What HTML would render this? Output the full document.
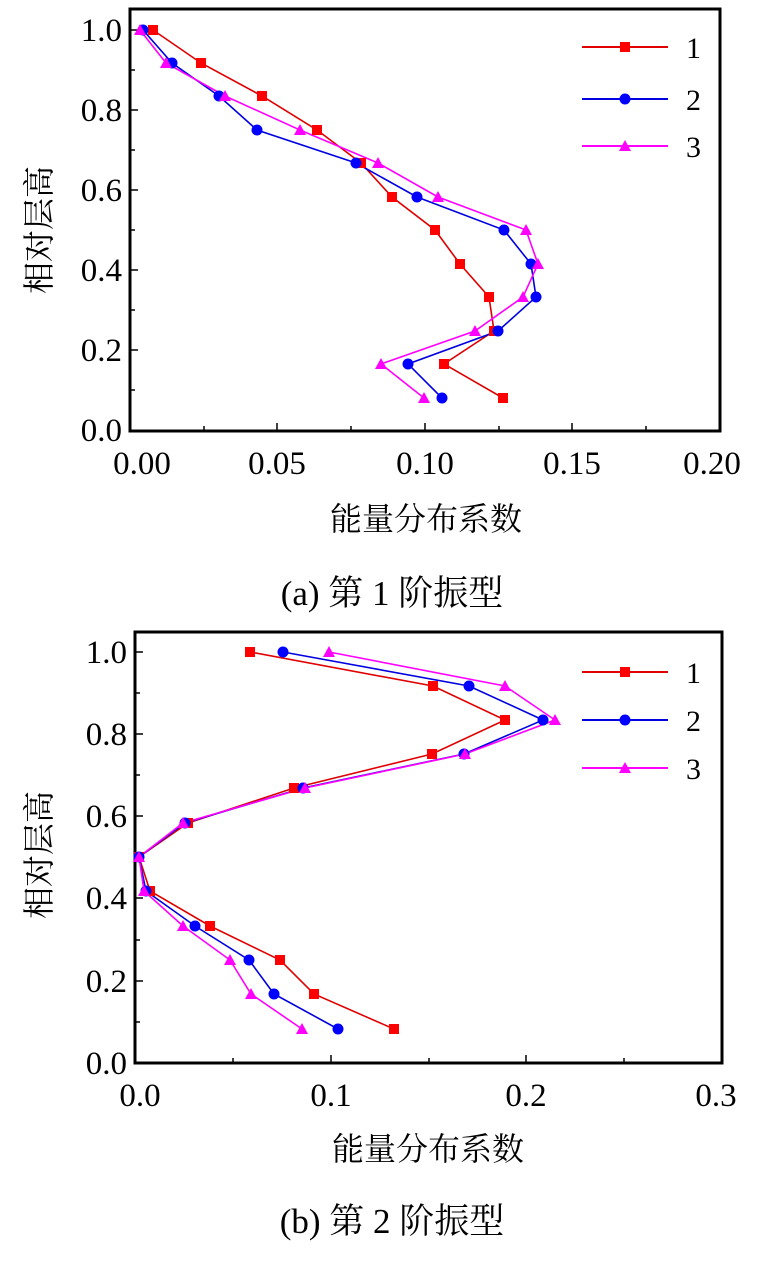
<!DOCTYPE html>
<html><head><meta charset="utf-8"><style>
html,body{margin:0;padding:0;background:#fff;}
svg text{font-family:"Liberation Serif","Noto Serif CJK SC",serif;fill:#000;}
</style></head><body>
<svg width="761" height="1261" viewBox="0 0 761 1261" xmlns="http://www.w3.org/2000/svg">
<rect x="130" y="9" width="590" height="422" fill="none" stroke="#000" stroke-width="3"/>
<g stroke="#000" stroke-width="1.5">
<line x1="130" y1="30" x2="138" y2="30"/><line x1="130" y1="70" x2="135" y2="70"/>
<line x1="130" y1="110" x2="138" y2="110"/><line x1="130" y1="150" x2="135" y2="150"/>
<line x1="130" y1="190" x2="138" y2="190"/><line x1="130" y1="230" x2="135" y2="230"/>
<line x1="130" y1="270" x2="138" y2="270"/><line x1="130" y1="310" x2="135" y2="310"/>
<line x1="130" y1="350" x2="138" y2="350"/><line x1="130" y1="390" x2="135" y2="390"/>
<line x1="204" y1="431" x2="204" y2="426"/><line x1="277" y1="431" x2="277" y2="423"/>
<line x1="351" y1="431" x2="351" y2="426"/><line x1="425" y1="431" x2="425" y2="423"/>
<line x1="499" y1="431" x2="499" y2="426"/><line x1="572" y1="431" x2="572" y2="423"/>
<line x1="646" y1="431" x2="646" y2="426"/>
</g>
<g font-size="33" text-anchor="end">
<text x="122" y="41">1.0</text><text x="122" y="121">0.8</text><text x="122" y="201">0.6</text>
<text x="122" y="281">0.4</text><text x="122" y="361">0.2</text><text x="122" y="441">0.0</text>
</g>
<g font-size="33" text-anchor="middle">
<text x="142" y="474">0.00</text><text x="277" y="474">0.05</text><text x="425" y="474">0.10</text>
<text x="572" y="474">0.15</text><text x="712" y="474">0.20</text>
</g>
<text x="426" y="530" font-size="32" text-anchor="middle">能量分布系数</text>
<text transform="translate(50,230) rotate(-90)" font-size="32" text-anchor="middle">相对层高</text>
<text x="392" y="605" font-size="35" text-anchor="middle">(a)  第 1 阶振型</text>

<polyline fill="none" stroke="#e00000" stroke-width="1.6" points="153,30 201,63 262,96 317,130 361,163 392,197 435,230 460,264 489,297 494,331 444,364 503,398"/>
<polyline fill="none" stroke="#0000e0" stroke-width="1.6" points="143,30 172,63 219,96 257,130 356,163 417,197 504,230 531,264 536,297 498,331 408,364 442,398"/>
<polyline fill="none" stroke="#ff00ff" stroke-width="1.6" points="140,30 166,63 225,96 300,130 378,163 438,197 526,230 538,264 523,297 475,331 381,364 424,398"/>
<g fill="#ff0000">
<rect x="148" y="25" width="10" height="10"/><rect x="196" y="58" width="10" height="10"/><rect x="257" y="91" width="10" height="10"/><rect x="312" y="125" width="10" height="10"/><rect x="356" y="158" width="10" height="10"/><rect x="387" y="192" width="10" height="10"/><rect x="430" y="225" width="10" height="10"/><rect x="455" y="259" width="10" height="10"/><rect x="484" y="292" width="10" height="10"/><rect x="489" y="326" width="10" height="10"/><rect x="439" y="359" width="10" height="10"/><rect x="498" y="393" width="10" height="10"/>
</g>
<g fill="#0000ff">
<circle cx="143" cy="30" r="5.5"/><circle cx="172" cy="63" r="5.5"/><circle cx="219" cy="96" r="5.5"/><circle cx="257" cy="130" r="5.5"/><circle cx="356" cy="163" r="5.5"/><circle cx="417" cy="197" r="5.5"/><circle cx="504" cy="230" r="5.5"/><circle cx="531" cy="264" r="5.5"/><circle cx="536" cy="297" r="5.5"/><circle cx="498" cy="331" r="5.5"/><circle cx="408" cy="364" r="5.5"/><circle cx="442" cy="398" r="5.5"/>
</g>
<g fill="#ff00ff">
<path d="M140,24 l6,11 h-12z M166,57 l6,11 h-12z M225,90 l6,11 h-12z M300,124 l6,11 h-12z M378,157 l6,11 h-12z M438,191 l6,11 h-12z M526,224 l6,11 h-12z M538,258 l6,11 h-12z M523,291 l6,11 h-12z M475,325 l6,11 h-12z M381,358 l6,11 h-12z M424,392 l6,11 h-12z"/>
</g>
<line x1="582" y1="47" x2="668" y2="47" stroke="#e00000" stroke-width="2"/><rect x="620" y="42" width="10" height="10" fill="#f00"/>
<line x1="582" y1="99" x2="668" y2="99" stroke="#0000e0" stroke-width="2"/><circle cx="625" cy="99" r="5.5" fill="#00f"/>
<line x1="582" y1="146" x2="668" y2="146" stroke="#ff00ff" stroke-width="2"/><path d="M625,140 l6,11 h-12z" fill="#f0f"/>
<g font-size="30"><text x="686" y="58">1</text><text x="686" y="110">2</text><text x="686" y="157">3</text></g>

<rect x="135" y="632" width="587" height="431" fill="none" stroke="#000" stroke-width="3"/>
<g stroke="#000" stroke-width="1.5">
<line x1="135" y1="652" x2="143" y2="652"/><line x1="135" y1="693" x2="140" y2="693"/>
<line x1="135" y1="734" x2="143" y2="734"/><line x1="135" y1="775" x2="140" y2="775"/>
<line x1="135" y1="816" x2="143" y2="816"/><line x1="135" y1="857" x2="140" y2="857"/>
<line x1="135" y1="898" x2="143" y2="898"/><line x1="135" y1="940" x2="140" y2="940"/>
<line x1="135" y1="981" x2="143" y2="981"/><line x1="135" y1="1022" x2="140" y2="1022"/>
<line x1="233" y1="1063" x2="233" y2="1058"/><line x1="331" y1="1063" x2="331" y2="1055"/>
<line x1="429" y1="1063" x2="429" y2="1058"/><line x1="526" y1="1063" x2="526" y2="1055"/>
<line x1="624" y1="1063" x2="624" y2="1058"/>
</g>
<g font-size="33" text-anchor="end">
<text x="127" y="663">1.0</text><text x="127" y="745">0.8</text><text x="127" y="827">0.6</text>
<text x="127" y="909">0.4</text><text x="127" y="992">0.2</text><text x="127" y="1074">0.0</text>
</g>
<g font-size="33" text-anchor="middle">
<text x="140" y="1106">0.0</text><text x="331" y="1106">0.1</text><text x="526" y="1106">0.2</text><text x="716" y="1106">0.3</text>
</g>
<text x="428" y="1160" font-size="32" text-anchor="middle">能量分布系数</text>
<text transform="translate(50,855) rotate(-90)" font-size="32" text-anchor="middle">相对层高</text>
<text x="392" y="1233" font-size="35" text-anchor="middle">(b)  第 2 阶振型</text>

<polyline fill="none" stroke="#e00000" stroke-width="1.6" points="250,652 433,686 505,720 432,754 294,788 188,823 139,857 150,891 210,926 280,960 314,994 394,1029"/>
<polyline fill="none" stroke="#0000e0" stroke-width="1.6" points="283,652 469,686 543,720 464,754 303,788 185,823 139,857 146,891 195,926 249,960 274,994 338,1029"/>
<polyline fill="none" stroke="#ff00ff" stroke-width="1.6" points="329,652 505,686 555,720 465,754 305,788 183,823 139,857 144,891 183,926 230,960 251,994 302,1029"/>
<g fill="#ff0000">
<rect x="245" y="647" width="10" height="10"/><rect x="428" y="681" width="10" height="10"/><rect x="500" y="715" width="10" height="10"/><rect x="427" y="749" width="10" height="10"/><rect x="289" y="783" width="10" height="10"/><rect x="183" y="818" width="10" height="10"/><rect x="134" y="852" width="10" height="10"/><rect x="145" y="886" width="10" height="10"/><rect x="205" y="921" width="10" height="10"/><rect x="275" y="955" width="10" height="10"/><rect x="309" y="989" width="10" height="10"/><rect x="389" y="1024" width="10" height="10"/>
</g>
<g fill="#0000ff">
<circle cx="283" cy="652" r="5.5"/><circle cx="469" cy="686" r="5.5"/><circle cx="543" cy="720" r="5.5"/><circle cx="464" cy="754" r="5.5"/><circle cx="303" cy="788" r="5.5"/><circle cx="185" cy="823" r="5.5"/><circle cx="139" cy="857" r="5.5"/><circle cx="146" cy="891" r="5.5"/><circle cx="195" cy="926" r="5.5"/><circle cx="249" cy="960" r="5.5"/><circle cx="274" cy="994" r="5.5"/><circle cx="338" cy="1029" r="5.5"/>
</g>
<g fill="#ff00ff">
<path d="M329,646 l6,11 h-12z M505,680 l6,11 h-12z M555,714 l6,11 h-12z M465,748 l6,11 h-12z M305,782 l6,11 h-12z M183,817 l6,11 h-12z M139,851 l6,11 h-12z M144,885 l6,11 h-12z M183,920 l6,11 h-12z M230,954 l6,11 h-12z M251,988 l6,11 h-12z M302,1023 l6,11 h-12z"/>
</g>
<line x1="582" y1="672" x2="668" y2="672" stroke="#e00000" stroke-width="2"/><rect x="620" y="667" width="10" height="10" fill="#f00"/>
<line x1="582" y1="720" x2="668" y2="720" stroke="#0000e0" stroke-width="2"/><circle cx="625" cy="720" r="5.5" fill="#00f"/>
<line x1="582" y1="768" x2="668" y2="768" stroke="#ff00ff" stroke-width="2"/><path d="M625,762 l6,11 h-12z" fill="#f0f"/>
<g font-size="30"><text x="686" y="683">1</text><text x="686" y="731">2</text><text x="686" y="779">3</text></g>
</svg>
</body></html>
